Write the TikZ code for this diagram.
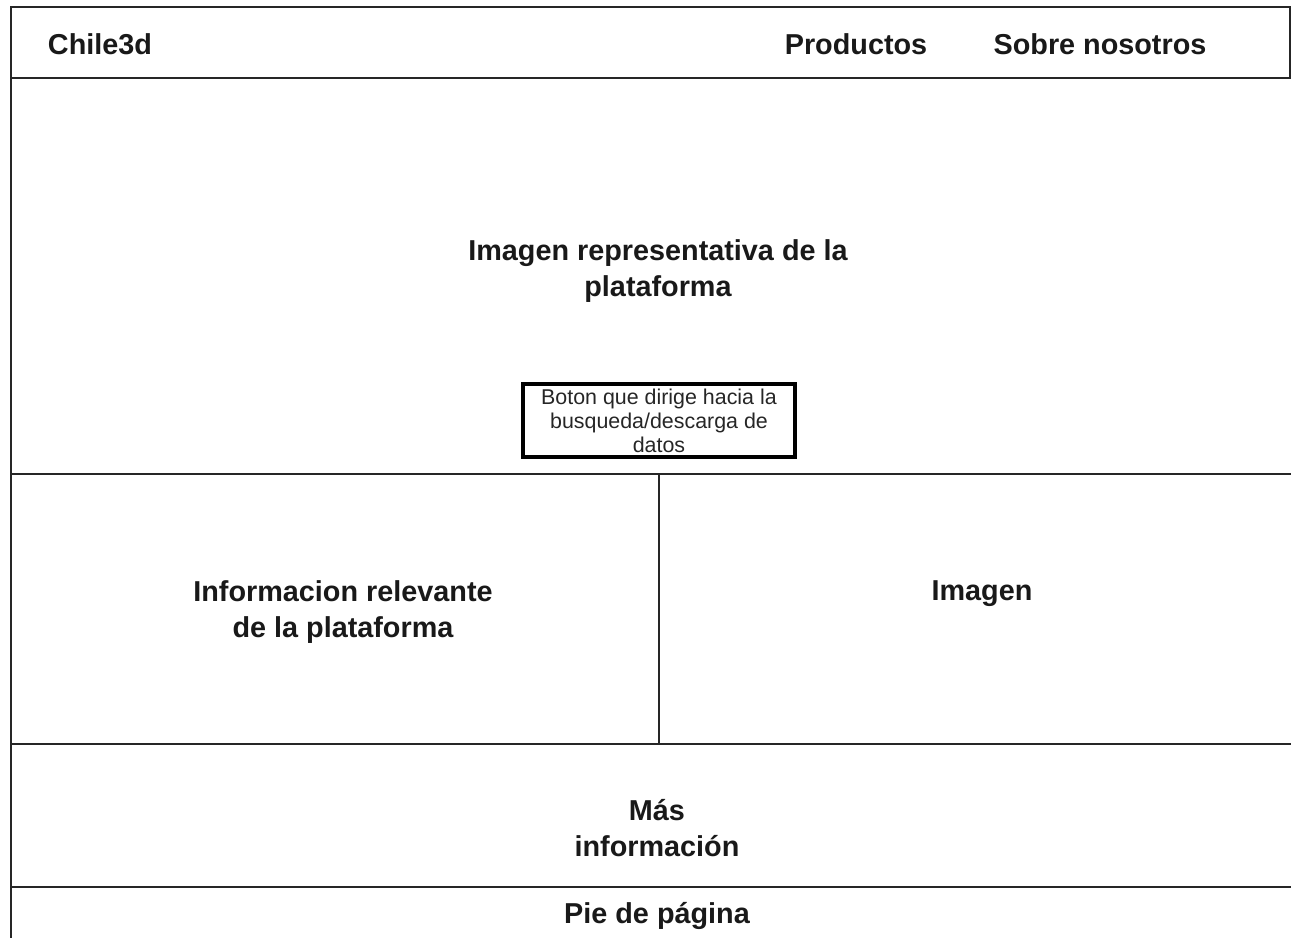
\documentclass[tikz,border=0pt]{standalone}
\usepackage{fontspec}
\setmainfont{Liberation Sans}
\begin{document}
\begin{tikzpicture}[x=1pt,y=-1pt,
  frame/.style={line width=2pt,draw=black!85},
  heading/.style={font=\fontsize{28.8}{36}\selectfont\bfseries,align=center,inner sep=0pt,text=black!90},
  btntext/.style={font=\fontsize{21.4}{24}\selectfont,align=center,inner sep=0pt,text=black!85},
  btnbox/.style={line width=4pt,draw=black}]
  \useasboundingbox (0,0) rectangle (1291,938);

  % navigation bar
  \draw[frame] (11,7) rectangle (1290,78);
  \node[heading] (logo) at (100,44) {Chile3d};
  \node[heading] (prod) at (856,44) {Productos};
  \node[heading] (about) at (1100,44) {Sobre nosotros};

  % page sections
  \draw[frame] (11,78) -- (11,938);
  \draw[frame] (11,474) -- (1291,474);
  \draw[frame] (11,744) -- (1291,744);
  \draw[frame] (11,887) -- (1291,887);
  \draw[frame] (659,474) -- (659,744);

  % hero
  \node[heading] (hero) at (658,271) {Imagen representativa de la\\plataforma};
  \draw[btnbox] (523,384) rectangle (795,457);
  \node[btntext] (btn) at (659,421) {Boton que dirige hacia la\\busqueda/descarga de\\datos};

  % content
  \node[heading] (info) at (343,612) {Informacion relevante\\de la plataforma};
  \node[heading] (img) at (982,594) {Imagen};
  \node[heading] (more) at (657,828) {Más\\información};
  \node[heading] (foot) at (657,916) {Pie de página};
\end{tikzpicture}
\end{document}
